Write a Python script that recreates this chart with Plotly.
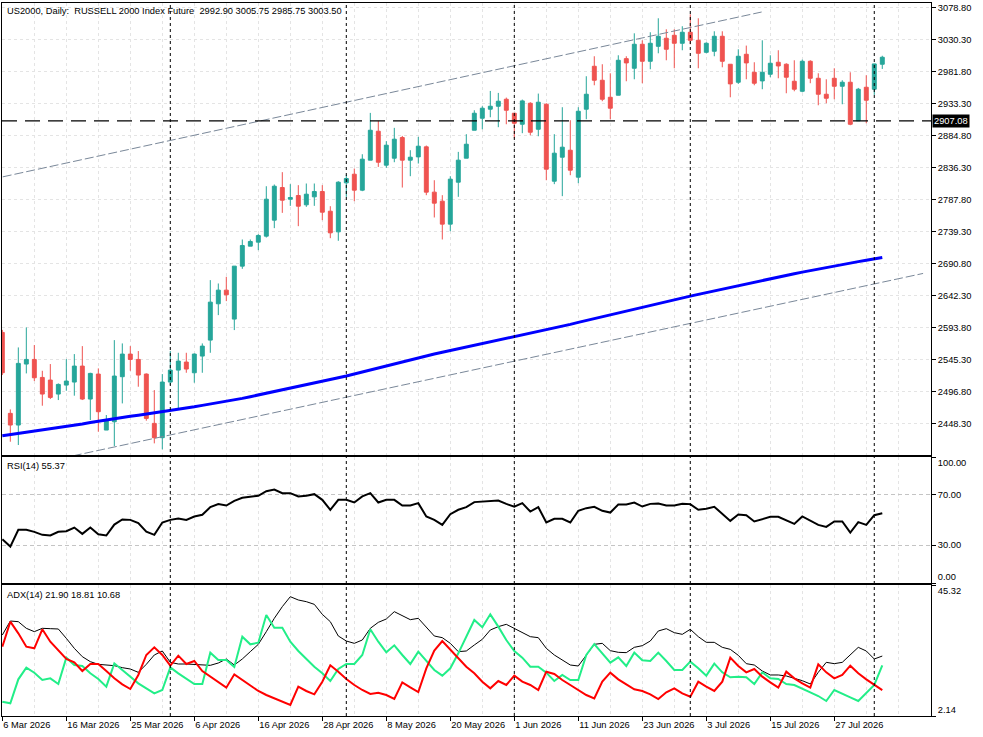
import plotly.graph_objects as go

# ---------------- data ----------------
bars = list(range(111))

opens = [2586.2, 2463.4, 2445.7, 2538.2, 2545.2, 2517.9, 2513.9, 2492.7, 2506.3, 2510.9,
         2535.1, 2485.1, 2523.0, 2438.1, 2450.7, 2519.0, 2553.3, 2545.2, 2523.0, 2448.2,
         2426.5, 2510.9, 2529.0, 2541.2, 2525.0, 2550.3, 2574.5, 2629.6, 2650.3, 2606.4,
         2686.7, 2717.0, 2723.1, 2732.2, 2756.4, 2805.9, 2788.2, 2793.8, 2779.7, 2791.8,
         2799.9, 2770.0, 2738.7, 2813.0, 2826.1, 2801.9, 2847.4, 2891.3, 2839.8, 2850.4,
         2881.7, 2847.4, 2852.4, 2867.6, 2798.9, 2785.2, 2750.4, 2814.0, 2850.4, 2892.8,
         2911.0, 2924.7, 2929.2, 2939.8, 2918.6, 2901.9, 2933.7, 2894.3, 2932.2, 2815.5,
         2851.9, 2862.5, 2821.6, 2924.7, 2989.8, 2968.6, 2942.8, 2945.9, 3001.4, 2986.8,
         3023.2, 2997.4, 3020.1, 3032.3, 3036.8, 3024.7, 3041.4, 3029.2, 3011.0, 3012.6,
         3035.3, 2992.9, 2965.6, 3008.0, 2980.7, 2967.6, 2977.7, 2995.9, 2992.9, 2967.1,
         2951.9, 2997.4, 2971.6, 2947.4, 2971.6, 2959.5, 2965.6, 2907.0, 2958.0, 2955.0,
         2992.90]

highs = [2590.0, 2469.4, 2563.4, 2593.7, 2567.0, 2528.0, 2538.2, 2508.8, 2545.7, 2553.3,
         2565.4, 2525.0, 2531.6, 2460.9, 2574.5, 2569.5, 2565.4, 2557.9, 2524.0, 2498.7,
         2523.0, 2557.9, 2555.3, 2555.3, 2554.3, 2569.5, 2665.5, 2660.4, 2670.5, 2686.7,
         2727.1, 2727.1, 2735.2, 2807.9, 2810.5, 2829.2, 2811.0, 2809.5, 2812.0, 2812.0,
         2809.5, 2777.6, 2815.5, 2825.1, 2834.7, 2856.4, 2919.1, 2907.0, 2876.2, 2896.4,
         2884.2, 2862.5, 2882.7, 2869.6, 2817.0, 2794.3, 2823.1, 2860.0, 2886.8, 2923.1,
         2929.2, 2952.4, 2949.4, 2942.3, 2918.6, 2939.3, 2935.3, 2948.4, 2933.7, 2886.8,
         2927.7, 2908.0, 2927.7, 2974.7, 3005.0, 2992.9, 2979.2, 3006.5, 3005.0, 3039.8,
         3029.2, 3041.4, 3062.6, 3045.9, 3045.9, 3050.5, 3068.6, 3062.6, 3026.2, 3042.9,
         3042.9, 2992.9, 3015.6, 3021.2, 2995.9, 3029.2, 3006.5, 3014.1, 2994.4, 2998.9,
         2999.9, 2998.9, 2979.2, 2970.1, 2986.8, 2968.6, 2980.7, 2957.0, 2976.2, 2993.4,
         3005.75]

lows = [2521.5, 2420.4, 2415.4, 2524.0, 2512.4, 2475.0, 2485.1, 2483.6, 2497.7, 2490.2,
        2483.6, 2453.3, 2435.6, 2438.1, 2413.9, 2478.5, 2528.0, 2503.8, 2452.3, 2417.9,
        2408.8, 2506.3, 2471.0, 2525.0, 2509.9, 2525.0, 2555.3, 2612.4, 2633.6, 2589.7,
        2682.6, 2717.0, 2710.9, 2730.1, 2744.3, 2767.5, 2778.1, 2747.3, 2776.6, 2778.1,
        2756.4, 2729.1, 2725.1, 2791.8, 2785.2, 2800.4, 2847.4, 2837.2, 2835.7, 2844.3,
        2805.9, 2823.1, 2842.3, 2794.3, 2760.5, 2727.1, 2739.7, 2791.8, 2850.4, 2892.8,
        2894.3, 2912.5, 2897.4, 2901.9, 2880.7, 2888.3, 2885.2, 2883.7, 2817.0, 2811.0,
        2792.8, 2824.6, 2812.5, 2909.5, 2961.0, 2936.8, 2909.5, 2945.9, 2967.1, 2970.1,
        2964.1, 2985.3, 3009.5, 2998.9, 2986.8, 3014.1, 3023.2, 2986.8, 3009.5, 3005.0,
        2988.3, 2942.8, 2963.1, 2970.1, 2961.0, 2955.0, 2973.2, 2971.6, 2948.9, 2951.9,
        2950.4, 2964.1, 2930.7, 2933.7, 2939.8, 2932.2, 2900.4, 2907.0, 2903.4, 2946.4,
        2985.75]

closes = [2525.0, 2445.7, 2539.2, 2545.2, 2517.4, 2492.7, 2487.6, 2507.3, 2512.4, 2535.1,
          2485.1, 2524.0, 2465.9, 2452.3, 2520.0, 2553.3, 2545.2, 2521.5, 2455.8, 2426.5,
          2510.9, 2529.0, 2542.7, 2530.6, 2553.3, 2565.4, 2632.1, 2650.3, 2643.2, 2686.7,
          2718.0, 2724.1, 2733.2, 2788.2, 2807.9, 2786.7, 2790.8, 2777.6, 2795.8, 2799.9,
          2768.5, 2737.2, 2814.0, 2819.6, 2801.9, 2848.9, 2892.8, 2844.3, 2870.1, 2879.2,
          2847.4, 2851.9, 2868.6, 2798.9, 2782.2, 2750.4, 2818.6, 2847.4, 2871.6, 2918.6,
          2926.2, 2929.2, 2936.8, 2923.1, 2903.4, 2937.3, 2889.8, 2935.3, 2833.7, 2858.0,
          2867.1, 2832.2, 2921.6, 2947.4, 2968.6, 2939.8, 2926.2, 2998.9, 2994.9, 3023.2,
          2997.4, 3024.7, 3035.3, 3015.6, 3024.7, 3041.4, 3029.2, 3009.5, 3024.7, 3035.3,
          2997.4, 2963.1, 3005.0, 2994.9, 2964.1, 2980.7, 2994.4, 2990.3, 2973.2, 2955.0,
          2997.4, 2971.6, 2947.4, 2941.3, 2959.5, 2965.6, 2901.9, 2955.0, 2938.3, 2993.4,
          3003.50]

ma_values = [2429.5, 2431.2, 2432.9, 2434.6, 2436.3, 2438.0, 2439.7, 2441.4, 2443.1, 2445.2,
             2447.3, 2449.4, 2451.5, 2453.6, 2455.7, 2457.4, 2459.0, 2460.7, 2462.4, 2464.0,
             2465.7, 2467.4, 2469.4, 2471.4, 2473.4, 2475.5, 2477.5, 2479.5, 2481.6, 2483.6,
             2486.1, 2488.7, 2491.2, 2493.7, 2496.2, 2498.8, 2501.3, 2504.0, 2506.6, 2509.3,
             2512.0, 2514.7, 2517.3, 2520.0, 2523.1, 2526.3, 2529.4, 2532.6, 2535.7, 2538.9,
             2542.0, 2545.1, 2548.3, 2550.9, 2553.5, 2556.1, 2558.7, 2561.3, 2564.0, 2566.6,
             2569.2, 2571.8, 2574.4, 2577.0, 2579.6, 2582.1, 2584.6, 2587.2, 2589.7, 2592.6,
             2595.5, 2598.4, 2601.4, 2604.3, 2607.2, 2610.1, 2613.0, 2615.9, 2618.7, 2621.5,
             2624.3, 2627.1, 2630.0, 2632.8, 2635.6, 2638.4, 2641.2, 2643.9, 2646.6, 2649.2,
             2651.9, 2654.6, 2657.3, 2660.0, 2662.6, 2665.3, 2668.0, 2670.4, 2672.8, 2675.2,
             2677.6, 2680.0, 2682.4, 2684.8, 2687.2, 2689.3, 2691.4, 2693.5, 2695.6, 2697.7,
             2699.8]

rsi_values = [34.7, 28.9, 42.2, 42.2, 40.6, 38.2, 37.7, 40.6, 41.1, 44.0,
              39.0, 44.0, 38.7, 37.7, 46.4, 50.4, 50.1, 47.5, 40.8, 38.2,
              48.0, 50.1, 51.2, 50.1, 52.8, 54.1, 60.2, 62.6, 61.5, 65.2,
              67.6, 68.1, 69.2, 72.9, 74.2, 71.3, 71.3, 68.7, 69.2, 70.5,
              66.0, 58.1, 66.0, 66.0, 63.9, 68.7, 71.3, 63.9, 66.0, 66.0,
              61.5, 61.5, 63.4, 52.8, 50.1, 46.1, 54.6, 58.1, 60.2, 64.2,
              64.7, 65.5, 65.5, 62.8, 60.5, 63.4, 56.7, 60.2, 48.0, 50.9,
              50.9, 48.0, 57.3, 59.4, 60.5, 57.3, 55.9, 62.3, 62.3, 63.9,
              60.7, 62.8, 63.1, 61.5, 61.5, 62.8, 62.6, 58.1, 58.9, 60.5,
              54.9, 49.3, 54.4, 53.8, 48.8, 50.6, 52.5, 52.5, 49.9, 46.9,
              52.8, 49.6, 46.1, 44.5, 48.8, 48.8, 40.0, 48.3, 46.1, 53.8,
              55.37]

adx_values = [28.84, 33.45, 33.23, 31.04, 29.94, 31.04, 30.93, 30.82, 27.74, 24.44,
              21.70, 20.05, 19.17, 18.84, 18.73, 18.07, 17.63, 16.53, 19.17, 22.25,
              23.57, 19.83, 19.28, 19.28, 19.17, 18.84, 18.84, 19.61, 20.93, 18.95,
              20.93, 23.35, 25.76, 29.94, 34.33, 38.18, 41.47, 40.38, 39.83, 38.95,
              35.65, 33.23, 28.51, 26.86, 26.09, 27.19, 31.04, 33.01, 34.11, 36.53,
              35.21, 33.89, 34.33, 31.37, 28.51, 27.96, 26.09, 23.35, 23.57, 25.54,
              27.41, 30.49, 31.59, 32.36, 31.04, 29.61, 28.29, 27.96, 24.44, 22.25,
              20.60, 18.95, 18.62, 22.25, 25.76, 26.09, 23.68, 23.13, 23.02, 24.77,
              25.32, 26.86, 30.16, 30.93, 29.61, 29.06, 30.71, 28.29, 26.42, 26.42,
              24.77, 24.11, 22.14, 19.39, 18.95, 16.97, 15.66, 15.66, 15.33, 14.56,
              13.79, 12.69, 16.53, 19.83, 19.39, 19.83, 22.25, 24.77, 23.57, 20.93,
              21.90]

plus_di = [6.87, 6.32, 14.23, 18.07, 16.42, 14.01, 14.56, 12.69, 21.37, 18.95,
           18.62, 16.20, 14.34, 11.81, 19.50, 17.30, 15.11, 12.91, 11.26, 9.61,
           10.71, 18.18, 16.20, 14.56, 12.69, 12.69, 23.02, 20.60, 20.60, 18.29,
           28.29, 25.76, 26.31, 35.43, 31.26, 31.26, 26.64, 23.57, 20.93, 18.40,
           16.20, 13.68, 17.63, 19.28, 19.28, 22.25, 30.71, 26.64, 23.13, 25.43,
           22.25, 19.28, 23.35, 20.49, 17.30, 15.44, 17.85, 22.80, 28.29, 33.78,
           31.37, 35.65, 31.59, 27.19, 23.57, 21.37, 18.40, 18.40, 16.42, 13.68,
           15.66, 14.01, 14.01, 22.25, 25.87, 22.80, 19.72, 21.48, 18.62, 23.02,
           20.49, 20.27, 23.02, 20.27, 17.30, 17.30, 20.05, 17.85, 15.44, 19.39,
           16.53, 14.89, 15.11, 14.89, 12.69, 16.53, 14.56, 14.34, 12.69, 12.36,
           11.04, 9.94, 8.73, 7.09, 10.71, 9.61, 8.29, 7.09, 9.61, 12.36,
           18.81]

minus_di = [24.99, 33.23, 29.39, 24.99, 24.44, 30.71, 26.64, 23.90, 20.93, 19.83,
            16.97, 19.28, 19.28, 16.97, 14.56, 12.58, 11.04, 15.66, 22.25, 24.77,
            22.25, 18.73, 22.03, 19.28, 20.27, 16.97, 15.11, 13.13, 11.48, 15.87,
            14.01, 12.14, 10.38, 9.06, 7.96, 6.87, 5.77, 11.81, 10.38, 9.28,
            13.46, 18.84, 16.75, 14.34, 12.36, 10.71, 9.39, 9.83, 9.06, 7.74,
            13.24, 11.59, 10.05, 17.85, 23.68, 26.86, 24.11, 21.15, 18.40, 16.20,
            13.46, 11.26, 13.68, 12.36, 15.44, 13.46, 12.36, 10.71, 16.75, 15.98,
            14.01, 12.36, 10.71, 9.06, 7.96, 13.46, 16.42, 14.23, 12.58, 10.93,
            10.38, 9.28, 7.74, 9.94, 11.26, 9.61, 8.51, 13.46, 11.81, 10.38,
            13.46, 21.37, 18.62, 16.53, 17.63, 15.11, 13.24, 11.48, 16.75, 14.56,
            12.91, 11.48, 19.17, 16.53, 14.56, 15.66, 18.73, 16.20, 14.23, 12.36,
            10.68]

x_tick_bars = [0, 8, 16, 24, 32, 40, 48, 56, 64, 72, 80, 88, 96, 104]
x_tick_labels = ["6 Mar 2026", "16 Mar 2026", "25 Mar 2026", "6 Apr 2026", "16 Apr 2026",
                 "28 Apr 2026", "8 May 2026", "20 May 2026", "1 Jun 2026", "11 Jun 2026",
                 "23 Jun 2026", "3 Jul 2026", "15 Jul 2026", "27 Jul 2026"]
price_ticks = [2448.30, 2496.80, 2545.30, 2593.80, 2642.30, 2690.80, 2739.30,
               2787.80, 2836.30, 2884.80, 2933.30, 2981.80, 3030.30, 3078.80]
month_sep_bars = [21, 43, 64, 86, 109]
level_price = 2907.08
upper_channel_bars = [0.05, 94.92]
upper_channel_prices = [2822.1, 3072.1]
lower_channel_bars = [0.0, 115.1]
lower_channel_prices = [2376.0, 2675.6]
rsi_ticks = [100, 70, 30, 0]
adx_top, adx_bottom = 45.32, 2.14

title_text = "US2000, Daily:\u00a0 RUSSELL 2000 Index Future\u00a0 2992.90 3005.75 2985.75 3003.50"
rsi_text = "RSI(14) 55.37"
adx_text = "ADX(14) 21.90 18.81 10.68"

# ---------------- styling ----------------
FONT = "Liberation Sans"
FS = 9.3
W, H = 983, 737
ML, MR, MT, MB = 2, 52, 3, 21
PH = H - MT - MB
bottom_px = H - MB


def dom(top_px, bot_px):
    return [(bottom_px - bot_px) / PH, (bottom_px - top_px) / PH]


def edge_label(text, where):
    # labels at the top/bottom edge of a sub-window sit inside the window
    return ("\u00a0<br>" + text) if where == "top" else (text + "<br>\u00a0")


price_dom = dom(3, 455)
rsi_dom = dom(457, 583)
adx_dom = dom(585, 716)
x_range = [-0.04, 116.09]

GRID = "#e4e4e4"
GRID_DASH = "3px,3px"

fig = go.Figure()

fig.add_trace(go.Candlestick(
    x=bars, open=opens, high=highs, low=lows, close=closes,
    increasing=dict(line=dict(color="#26a69a", width=1), fillcolor="#26a69a"),
    decreasing=dict(line=dict(color="#ef5350", width=1), fillcolor="#ef5350"),
    whiskerwidth=0, xaxis="x", yaxis="y", hoverinfo="skip"))

fig.add_trace(go.Scatter(x=upper_channel_bars, y=upper_channel_prices, mode="lines",
                         line=dict(color="#7a8899", width=1, dash="9px,3px"),
                         xaxis="x", yaxis="y", hoverinfo="skip"))
fig.add_trace(go.Scatter(x=lower_channel_bars, y=lower_channel_prices, mode="lines",
                         line=dict(color="#7a8899", width=1, dash="9px,3px"),
                         xaxis="x", yaxis="y", hoverinfo="skip"))
fig.add_trace(go.Scatter(x=bars, y=ma_values, mode="lines",
                         line=dict(color="#0000ff", width=3),
                         xaxis="x", yaxis="y", hoverinfo="skip"))

fig.add_trace(go.Scatter(x=bars, y=rsi_values, mode="lines",
                         line=dict(color="#000000", width=2),
                         xaxis="x2", yaxis="y2", hoverinfo="skip"))

fig.add_trace(go.Scatter(x=bars, y=adx_values, mode="lines",
                         line=dict(color="#000000", width=1),
                         xaxis="x3", yaxis="y3", hoverinfo="skip"))
fig.add_trace(go.Scatter(x=bars, y=plus_di, mode="lines",
                         line=dict(color="#22ee88", width=2),
                         xaxis="x3", yaxis="y3", hoverinfo="skip"))
fig.add_trace(go.Scatter(x=bars, y=minus_di, mode="lines",
                         line=dict(color="#ff0000", width=2),
                         xaxis="x3", yaxis="y3", hoverinfo="skip"))

xbase = dict(range=x_range, showline=True, mirror=True, linecolor="black", linewidth=1,
             zeroline=False, tickmode="array", tickvals=x_tick_bars, automargin=False,
             showgrid=True, gridcolor=GRID, griddash=GRID_DASH, gridwidth=1,
             minor=dict(tickmode="linear", tick0=0, dtick=4, showgrid=True,
                        gridcolor=GRID, griddash=GRID_DASH, gridwidth=1),
             fixedrange=True)

ybase = dict(side="right", showline=True, mirror=True, linecolor="black", linewidth=1,
             zeroline=False, ticks="outside", ticklen=4, tickcolor="black",
             automargin=False,
             tickfont=dict(family=FONT, size=FS, color="black"), fixedrange=True)

rsi_ticktext = []
for v in rsi_ticks:
    t = f"{v:.2f}"
    if v == 100:
        t = edge_label(t, "top")
    elif v == 0:
        t = edge_label(t, "bottom")
    rsi_ticktext.append(t)

layout = dict(
    width=W, height=H, margin=dict(l=ML, r=MR, t=MT, b=MB, autoexpand=False),
    paper_bgcolor="white", plot_bgcolor="white", showlegend=False,
    font=dict(family=FONT, size=FS, color="black"),
    xaxis=dict(**xbase, anchor="y", showticklabels=False, ticks="",
               rangeslider=dict(visible=False)),
    xaxis2=dict(**xbase, anchor="y2", matches="x", showticklabels=False, ticks=""),
    xaxis3=dict(**xbase, anchor="y3", matches="x", showticklabels=True,
                ticktext=x_tick_labels, ticks="outside", ticklen=4, tickcolor="black",
                ticklabelposition="outside right",
                tickfont=dict(family=FONT, size=FS, color="black")),
    yaxis=dict(**ybase, domain=price_dom, anchor="x",
               range=[2400.26, 3085.77], tickmode="array", tickvals=price_ticks,
               ticktext=[f"{v:.2f}" for v in price_ticks],
               showgrid=True, gridcolor=GRID, griddash=GRID_DASH),
    yaxis2=dict(**ybase, domain=rsi_dom, anchor="x2", range=[0, 100],
                tickmode="array", tickvals=rsi_ticks, ticktext=rsi_ticktext,
                showgrid=True, gridcolor="#c4c4c4", griddash="4px,3px"),
    yaxis3=dict(**ybase, domain=adx_dom, anchor="x3", range=[adx_bottom, adx_top],
                tickmode="array", tickvals=[adx_top, adx_bottom],
                ticktext=[edge_label(f"{adx_top:.2f}", "top"),
                          edge_label(f"{adx_bottom:.2f}", "bottom")],
                showgrid=False),
)
fig.update_layout(**layout)

shapes = []
for b in month_sep_bars:
    shapes.append(dict(type="line", xref="x", yref="paper", x0=b, x1=b, y0=0, y1=1,
                       line=dict(color="black", width=1, dash="3px,3px"), layer="above"))
shapes.append(dict(type="line", xref="x domain", yref="y", x0=0, x1=1,
                   y0=level_price, y1=level_price,
                   line=dict(color="black", width=1.2, dash="15px,8px"), layer="above"))
fig.update_layout(shapes=shapes)

annotations = [
    dict(text=title_text, xref="x domain", yref="y domain", x=0, y=1, xanchor="left",
         yanchor="top", xshift=3, yshift=-1, showarrow=False,
         font=dict(family=FONT, size=FS, color="black")),
    dict(text=rsi_text, xref="x2 domain", yref="y2 domain", x=0, y=1, xanchor="left",
         yanchor="top", xshift=3, yshift=-2, showarrow=False,
         font=dict(family=FONT, size=FS, color="black")),
    dict(text=adx_text, xref="x3 domain", yref="y3 domain", x=0, y=1, xanchor="left",
         yanchor="top", xshift=3, yshift=-3, showarrow=False,
         font=dict(family=FONT, size=FS, color="black")),
    dict(text=f"{level_price:.2f}", xref="paper", yref="y", x=1, y=level_price,
         xanchor="left", yanchor="middle", xshift=1, showarrow=False,
         bgcolor="black", borderpad=1,
         font=dict(family=FONT, size=FS, color="white")),
]
fig.update_layout(annotations=annotations)

fig.write_html("out.html", config={"displayModeBar": False},
               post_script="document.body.style.margin='0';document.body.style.padding='0';")
